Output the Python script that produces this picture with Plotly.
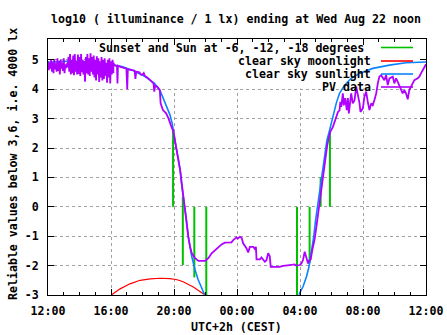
import plotly.graph_objects as go

# ---------------- data (hours after Tue 12:00 CEST) ----------------
tick_hours = [0, 4, 8, 12, 16, 20, 24]
tick_labels = ["12:00", "16:00", "20:00", "00:00", "04:00", "08:00", "12:00"]
ytick_vals = [-3, -2, -1, 0, 1, 2, 3, 4, 5]
ytick_labels = ["-3", "-2", "-1", "0", "1", "2", "3", "4", "5"]

# noisy afternoon PV readings, sampled every 3 minutes (pairs of high / low readings)
pv_noise_hi = [4.95, 4.9, 5.0, 4.92, 5.02, 4.88, 5.05, 4.95, 5.0, 4.9, 5.05, 4.85, 4.88, 5.1,
               5.2, 5.0, 5.15, 5.2, 4.95, 5.18, 5.1, 5.2, 5.0, 4.95, 5.1, 5.2, 5.05, 5.22,
               5.1, 5.15, 5.0, 5.12, 5.05, 4.95, 5.1, 5.0, 5.05, 4.9, 5.0, 5.05, 4.95, 5.0]
pv_noise_lo = [4.65, 4.7, 4.6, 4.55, 4.68, 4.6, 4.62, 4.5, 4.7, 4.62, 4.55, 4.72, 4.75, 4.6,
               4.5, 4.55, 4.48, 4.6, 4.5, 4.52, 4.45, 4.58, 4.5, 4.26, 4.55, 4.5, 4.45, 4.6,
               4.5, 4.4, 4.3, 4.5, 4.25, 4.4, 4.3, 4.35, 4.45, 4.22, 4.4, 4.2, 4.5, 4.55]
pv_noise_step = 0.05

pv_h = [4.15, 4.22, 4.3, 4.38, 4.41, 4.44, 4.6, 4.8, 4.98, 5.03, 5.07, 5.3, 5.5, 5.55, 5.6,
        5.8, 5.9, 6.0, 6.08, 6.15, 6.3, 6.5, 6.6, 6.7, 6.75, 6.8, 6.95, 7.05, 7.1, 7.15,
        7.3, 7.5, 7.65, 7.8, 7.88, 7.97, 8.07, 8.18, 8.28, 8.39, 8.49, 8.6, 8.68, 8.75,
        8.8, 8.91, 9.02, 9.13, 9.34, 9.55, 9.97, 10.18, 10.39, 10.6, 10.81, 11.02, 11.23,
        11.65, 11.76, 11.97, 12.05, 12.18, 12.3, 12.39, 12.6, 12.71, 12.82, 13.03, 13.13,
        13.2, 13.24, 13.45, 13.55, 13.66, 13.77, 13.87, 13.98, 14.08, 14.14, 14.71, 14.92,
        15.35, 15.66, 15.76, 15.98, 16.09, 16.19, 16.3, 16.4, 16.51, 16.57, 16.68, 16.78,
        16.93, 17.04, 17.14, 17.25, 17.31, 17.42, 17.5, 17.63, 17.73, 17.84, 17.92, 18.09,
        18.2, 18.3, 18.41, 18.51, 18.56, 18.62, 18.72, 18.78, 18.87, 18.97, 19.04, 19.1,
        19.19, 19.25, 19.35, 19.46, 19.57, 19.67, 19.78, 19.84, 19.99, 20.09, 20.2, 20.3,
        20.41, 20.52, 20.62, 20.73, 20.84, 20.94, 21.04, 21.15, 21.25, 21.36, 21.47, 21.57,
        21.68, 21.89, 21.99, 22.1, 22.2, 22.31, 22.42, 22.52, 22.63, 22.73, 22.84, 22.94,
        23.05, 23.15, 23.26, 23.47, 23.58, 23.68, 23.78, 23.89, 24.0]
pv_v = [4.9, 4.82, 4.8, 4.78, 4.2, 4.8, 4.76, 4.73, 4.7, 4.0, 4.68, 4.66, 4.63, 4.35, 4.6,
        4.58, 4.5, 4.5, 4.55, 4.45, 4.4, 4.3, 4.25, 4.2, 3.92, 4.12, 4.08, 4.0, 3.97, 3.52,
        3.29, 3.18, 3.01, 2.78, 2.67, 2.55, 2.21, 1.93, 1.59, 1.25, 0.8, 0.34, -0.11, -0.34,
        -0.55, -1.02, -1.36, -1.58, -1.75, -1.84, -1.84, -1.75, -1.58, -1.48, -1.41, -1.28, -1.22,
        -1.21, -1.13, -1.04, -1.08, -1.02, -1.06, -1.24, -1.41, -1.55, -1.36, -1.36, -1.43,
        -1.36, -1.79, -1.79, -1.72, -1.79, -1.87, -1.82, -1.58, -1.68, -2.04, -2.04, -2.01,
        -1.98, -1.96, -2.0, -1.98, -1.93, -1.81, -1.53, -1.7, -1.93, -1.83, -1.79, -1.47,
        -1.1, -0.68, -0.28, 0.12, 0.46, 0.91, 1.25, 1.7, 2.1, 2.38, 2.55, 2.72,
        2.89, 3.06, 3.23, 3.28, 3.57, 3.4, 3.86, 3.45, 3.7, 3.29, 3.7, 3.18,
        3.62, 3.86, 3.52, 3.62, 4.09, 3.86, 3.52, 3.23, 3.35, 3.75, 3.92, 3.58,
        3.29, 3.52, 3.46, 3.64, 3.86, 4.2, 4.43, 4.48, 4.4, 4.31, 4.48, 4.14,
        4.37, 4.43, 4.2, 4.37, 4.26, 4.14, 3.97, 3.86, 3.97, 3.86, 3.66, 3.97,
        4.09, 4.2, 4.31, 4.37, 4.43, 4.54, 4.65, 4.77, 4.85]

sun_h = [0, 1, 2, 3, 4, 4.7, 5.33, 6.17, 6.49, 6.76, 7.12, 7.44, 7.75, 7.88, 8.0, 8.13, 8.26,
         8.39, 8.51, 8.64, 8.77, 8.91, 9.13, 9.34, 9.54, 9.76, 9.91, 9.95, None,
         15.95, 15.98, 16.19, 16.41, 16.57, 16.72, 16.87, 16.99, 17.14, 17.29, 17.42, 17.56,
         17.71, 17.88, 18.09, 18.3, 18.51, 18.83, 19.25, 19.78, 20.62, 21.68, 22.73, 23.89, 24]
sun_v = [4.92, 4.95, 4.95, 4.9, 4.84, 4.77, 4.65, 4.43, 4.3, 4.2, 3.95, 3.55, 3.12, 2.85, 2.44,
         2.04, 1.59, 1.25, 0.64, 0.2, -0.36, -1.02, -1.7, -2.15, -2.49, -2.76, -2.97, -3.0, None,
         -3.0, -2.93, -2.72, -2.38, -2.04, -1.58, -1.02, -0.45, 0.12, 0.68, 1.25, 1.82,
         2.27, 2.61, 3.06, 3.52, 3.86, 4.14, 4.37, 4.54, 4.71, 4.82, 4.9, 4.93, 4.93]

moon_h = [4.02, 4.55, 5.2, 5.85, 6.49, 7.12, 7.75, 8.2, 8.58, 9.23, 9.76, 9.97]
moon_v = [-3.0, -2.8, -2.62, -2.5, -2.45, -2.43, -2.44, -2.48, -2.55, -2.73, -2.92, -3.0]

# sunset / sunrise and sun at -6, -12, -18 degrees
event_h = [7.94, 8.56, 9.29, 10.05, 15.81, 16.61, 17.31, 17.9]
event_lo = [0, -1.98, -2.4, -3.0, -3.0, -1.92, 0, 0]
event_hi = [2.6, 0.34, 0, 0, 0, 0, 1.0, 2.6]

legend_names = ["Sunset and Sun at -6, -12, -18 degrees", "clear sky moonlight",
                "clear sky sunlight", "PV data"]
colors = ["#00c000", "#ff0000", "#0a84ff", "#b000ff"]

# ---------------- build series ----------------
noise_x, noise_y = [], []
for k, (hi, lo) in enumerate(zip(pv_noise_hi, pv_noise_lo)):
    noise_x += [2 * k * pv_noise_step, (2 * k + 1) * pv_noise_step]
    noise_y += [hi, lo]
pv_x = noise_x + pv_h
pv_y = noise_y + pv_v

ev_x, ev_y = [], []
for h, lo, hi in zip(event_h, event_lo, event_hi):
    ev_x += [h, h, None]
    ev_y += [lo, hi, None]

FONT = "DejaVu Sans Mono"
FS = 11.6
YMAX = 5.71
L, R, T, B = 48, 21, 39, 40
PW, PH = 447 - L - R, 335 - T - B

fig = go.Figure()
fig.add_trace(go.Scatter(x=ev_x, y=ev_y, mode="lines", line=dict(color=colors[0], width=2),
                         showlegend=False))
fig.add_trace(go.Scatter(x=moon_h, y=moon_v, mode="lines", line=dict(color=colors[1], width=1.2),
                         showlegend=False))
fig.add_trace(go.Scatter(x=sun_h, y=sun_v, mode="lines", line=dict(color=colors[2], width=1.6),
                         connectgaps=False, showlegend=False))
fig.add_trace(go.Scatter(x=pv_x, y=pv_y, mode="lines", line=dict(color=colors[3], width=1.8),
                         showlegend=False))

axis_common = dict(showline=True, linecolor="black", linewidth=1, mirror="ticks",
                   ticks="inside", tickcolor="black", showgrid=True, gridcolor="#a0a0a0",
                   griddash="3px,3px", gridwidth=1, zeroline=False, automargin=False,
                   tickfont=dict(family=FONT, size=FS, color="black", weight="bold"))

fig.update_layout(
    width=447, height=335,
    margin=dict(l=L, r=R, t=T, b=B, autoexpand=False),
    paper_bgcolor="white", plot_bgcolor="white",
    xaxis=dict(range=[0, 24], tickvals=tick_hours, ticktext=tick_labels, ticklen=6,
               ticklabelstandoff=5,
               minor=dict(dtick=1, ticks="inside", ticklen=3, tickcolor="black", showgrid=False),
               **axis_common),
    yaxis=dict(range=[-3, YMAX], tickvals=ytick_vals, ticktext=ytick_labels, ticklen=6,
               ticklabelstandoff=6, **axis_common),
)

# key area: gnuplot leaves the grid out behind the key
fig.add_shape(type="rect", xref="x", yref="y", x0=3.0, x1=24, y0=4.03, y1=YMAX,
              fillcolor="white", line=dict(width=0), layer="between")

txt = dict(family=FONT, size=FS, color="black", weight="bold")


def px(xp):
    return (xp - L) / PW


def py(yp):
    return (335 - B - yp) / PH


fig.add_annotation(text="log10 ( illuminance / 1 lx) ending at Wed Aug 22 noon",
                   xref="paper", yref="paper", x=px(236), y=py(19),
                   xanchor="center", yanchor="middle", showarrow=False, font=txt)
fig.add_annotation(text="UTC+2h (CEST)", xref="paper", yref="paper", x=px(236),
                   y=py(327), xanchor="center", yanchor="middle",
                   showarrow=False, font=txt)
fig.add_annotation(text="Reliable values below 3,6, i.e. 4000 lx", xref="paper", yref="paper",
                   x=px(13), y=py(164), xanchor="center", yanchor="middle",
                   textangle=-90, showarrow=False, font=txt)

row_y = [47.5, 61, 74, 87]
row_right = [366, 373, 373, 373]
for name, c, yp, xr in zip(legend_names, colors, row_y, row_right):
    fig.add_annotation(text=name, xref="paper", yref="paper", x=px(xr), y=py(yp),
                       xanchor="right", yanchor="middle", showarrow=False, font=txt)
    fig.add_shape(type="line", xref="paper", yref="paper", x0=px(381), x1=px(413),
                  y0=py(yp), y1=py(yp), line=dict(color=c, width=1.6))

fig.write_html("out.html")
